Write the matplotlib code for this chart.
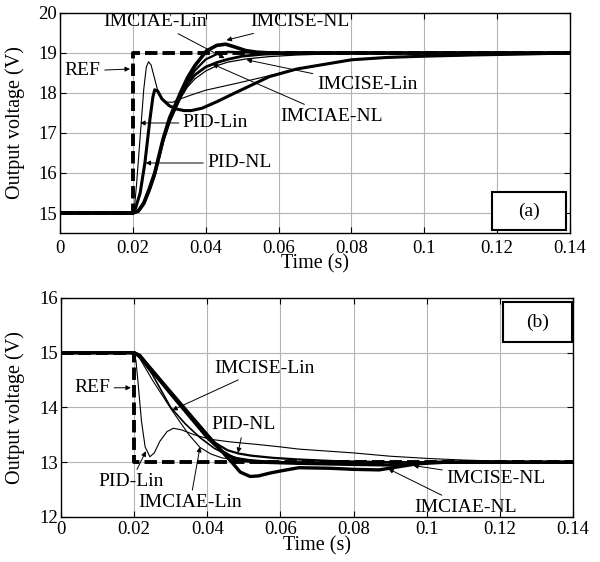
import matplotlib
matplotlib.use("Agg")
import matplotlib.pyplot as plt
from matplotlib.patches import Rectangle

plt.rcParams['font.family'] = ['Liberation Serif', 'DejaVu Serif']
plt.rcParams['mathtext.fontset'] = 'stix'

# ---------------- Panel (a) data ----------------
t_ref_a = [0, 0.02, 0.02, 0.14]
v_ref_a = [15, 15, 19, 19]

t_pidlin_a = [0, 0.020, 0.0205, 0.021, 0.022, 0.023, 0.0237, 0.0243, 0.0250, 0.026, 0.027, 0.028,
              0.0295, 0.031, 0.033, 0.036, 0.040, 0.0484, 0.055, 0.065, 0.080, 0.090, 0.100, 0.113, 0.125, 0.14]
v_pidlin_a = [15, 15, 15.2, 15.7, 16.9, 18.1, 18.65, 18.78, 18.7, 18.35, 18.0, 17.85,
              17.77, 17.77, 17.85, 17.95, 18.07, 18.24, 18.38, 18.6, 18.82, 18.88, 18.91, 18.94, 18.97, 19.0]

t_pidnl_a = [0, 0.020, 0.0205, 0.022, 0.0233, 0.0247, 0.0255, 0.026, 0.0268, 0.028, 0.030, 0.032,
             0.034, 0.036, 0.039, 0.043, 0.048, 0.0575, 0.065, 0.080, 0.090, 0.100, 0.113, 0.125, 0.14]
v_pidnl_a = [15, 15, 15.05, 15.5, 16.25, 17.35, 17.9, 18.08, 18.05, 17.85, 17.68, 17.6,
             17.56, 17.56, 17.62, 17.78, 18.0, 18.41, 18.6, 18.83, 18.89, 18.92, 18.95, 18.97, 19.0]

t_imcisenl_a = [0, 0.020, 0.0215, 0.023, 0.0245, 0.026, 0.0283, 0.0301, 0.0333, 0.035, 0.037, 0.0402,
                0.043, 0.0455, 0.048, 0.051, 0.054, 0.058, 0.14]
v_imcisenl_a = [15, 15, 15.05, 15.25, 15.6, 16.0, 16.85, 17.38, 18.05, 18.38, 18.68, 19.05,
                19.19, 19.22, 19.15, 19.06, 19.02, 19.0, 19.0]

t_imciaelin_a = [0, 0.020, 0.0215, 0.023, 0.0245, 0.026, 0.0283, 0.0301, 0.0333, 0.035, 0.037, 0.040,
                 0.043, 0.046, 0.050, 0.055, 0.14]
v_imciaelin_a = [15, 15, 15.05, 15.25, 15.6, 16.0, 16.83, 17.33, 17.98, 18.28, 18.56, 18.84,
                 18.97, 19.03, 19.02, 19.0, 19.0]

t_imciaenl_a = [0, 0.020, 0.0215, 0.023, 0.0245, 0.026, 0.0283, 0.0301, 0.0333, 0.035, 0.037, 0.040,
                0.043, 0.046, 0.050, 0.056, 0.065, 0.14]
v_imciaenl_a = [15, 15, 15.04, 15.22, 15.55, 15.95, 16.8, 17.3, 17.95, 18.22, 18.45, 18.65,
                18.76, 18.84, 18.92, 18.97, 19.0, 19.0]

t_imciselin_a = [0, 0.020, 0.0215, 0.023, 0.0245, 0.026, 0.0283, 0.0301, 0.0333, 0.035, 0.037, 0.040,
                 0.043, 0.046, 0.051, 0.0575, 0.065, 0.075, 0.090, 0.14]
v_imciselin_a = [15, 15, 15.04, 15.22, 15.55, 15.95, 16.78, 17.28, 17.9, 18.15, 18.35, 18.55,
                 18.68, 18.77, 18.85, 18.91, 18.95, 18.98, 19.0, 19.0]

# ---------------- Panel (b) data ----------------
t_ref_b = [0, 0.02, 0.02, 0.14]
v_ref_b = [15, 15, 13, 13]

t_pidlin_b = [0, 0.020, 0.0205, 0.021, 0.022, 0.023, 0.0243, 0.0255, 0.027, 0.029, 0.0307, 0.033,
              0.0365, 0.0407, 0.0465, 0.0544, 0.060, 0.065, 0.080, 0.090, 0.100, 0.110, 0.120, 0.14]
v_pidlin_b = [15, 15, 14.85, 14.5, 13.75, 13.28, 13.1, 13.17, 13.38, 13.56, 13.62, 13.59,
              13.5, 13.42, 13.37, 13.32, 13.28, 13.24, 13.17, 13.11, 13.07, 13.04, 13.02, 13.0]

t_pidnl_b = [0, 0.020, 0.022, 0.030, 0.038, 0.042, 0.0455, 0.0485, 0.052, 0.058, 0.065, 0.075, 0.090, 0.14]
v_pidnl_b = [15, 15, 14.88, 14.25, 13.62, 13.36, 13.22, 13.16, 13.12, 13.08, 13.05, 13.02, 13.0, 13.0]

t_imcisenl_b = [0, 0.020, 0.0215, 0.030, 0.040, 0.044, 0.047, 0.050, 0.055, 0.065, 0.080, 0.090,
                0.097, 0.105, 0.14]
v_imcisenl_b = [15, 15, 14.95, 14.25, 13.45, 13.2, 13.08, 13.03, 13.0, 12.98, 12.96, 12.95,
                12.97, 13.0, 13.0]

t_imciaenl_b = [0, 0.020, 0.0215, 0.030, 0.040, 0.0449, 0.0467, 0.049, 0.0517, 0.054, 0.057, 0.060,
                0.065, 0.0735, 0.080, 0.087, 0.0935, 0.100, 0.14]
v_imciaenl_b = [15, 15, 14.95, 14.28, 13.5, 13.13, 13.0, 12.82, 12.74, 12.75, 12.8, 12.84,
                12.9, 12.89, 12.87, 12.86, 12.93, 13.0, 13.0]

t_imciselin_b = [0, 0.020, 0.0215, 0.025, 0.030, 0.034, 0.038, 0.042, 0.045, 0.048, 0.052, 0.058, 0.068, 0.14]
v_imciselin_b = [15, 15, 14.92, 14.6, 14.0, 13.7, 13.45, 13.25, 13.15, 13.08, 13.04, 13.01, 13.0, 13.0]

t_imciaelin_b = [0, 0.020, 0.0215, 0.025, 0.0303, 0.035, 0.038, 0.041, 0.044, 0.048, 0.055, 0.065, 0.14]
v_imciaelin_b = [15, 15, 14.9, 14.5, 13.95, 13.5, 13.27, 13.15, 13.08, 13.04, 13.02, 13.0, 13.0]

x_ticks = [0, 0.02, 0.04, 0.06, 0.08, 0.1, 0.12, 0.14]
x_tick_labels = ['0', '0.02', '0.04', '0.06', '0.08', '0.1', '0.12', '0.14']
y_ticks_a = [15, 16, 17, 18, 19, 20]
y_ticks_b = [12, 13, 14, 15, 16]

fig = plt.figure(figsize=(6.0, 5.62), dpi=100)
ax1 = fig.add_axes([0.100, 0.5854, 0.850, 0.3915])
ax2 = fig.add_axes([0.1017, 0.0801, 0.8533, 0.3897])

def style(ax, yticks, ylim, pad_x):
    ax.set_xlim(0, 0.14)
    ax.set_ylim(*ylim)
    ax.set_xticks(x_ticks)
    ax.set_xticklabels(x_tick_labels)
    ax.set_yticks(yticks)
    ax.grid(True, color='#b4b4b4', lw=0.8)
    ax.set_axisbelow(True)
    ax.tick_params(direction='in', top=True, right=True, length=4, width=0.8, labelsize=13.5)
    ax.tick_params(axis='x', pad=pad_x)
    ax.tick_params(axis='y', pad=2)
    for s in ax.spines.values():
        s.set_linewidth(1.0)
    ax.set_ylabel('Output voltage (V)', fontsize=14.5)
    ax.set_xlabel('Time (s)', fontsize=14.5)

style(ax1, y_ticks_a, (14.5, 20), 5)
style(ax2, y_ticks_b, (12, 16), 3)
ax1.yaxis.set_label_coords(-0.069, 0.5)
ax2.yaxis.set_label_coords(-0.070, 0.5)
ax1.xaxis.set_label_coords(0.5, -0.098)
ax2.xaxis.set_label_coords(0.5, -0.090)

# panel (a) curves
ax1.plot(t_pidlin_a, v_pidlin_a, color='k', lw=0.8)
ax1.plot(t_imciselin_a, v_imciselin_a, color='k', lw=0.9)
ax1.plot(t_pidnl_a, v_pidnl_a, color='k', lw=2.2)
ax1.plot(t_imciaelin_a, v_imciaelin_a, color='k', lw=1.6)
ax1.plot(t_imciaenl_a, v_imciaenl_a, color='k', lw=2.0)
ax1.plot(t_imcisenl_a, v_imcisenl_a, color='k', lw=2.6)
ax1.plot(t_ref_a, v_ref_a, color='k', lw=2.8, dashes=(3.2, 1.3))

# panel (b) curves
ax2.plot(t_pidlin_b, v_pidlin_b, color='k', lw=0.8)
ax2.plot(t_imciaelin_b, v_imciaelin_b, color='k', lw=0.8)
ax2.plot(t_imciselin_b, v_imciselin_b, color='k', lw=1.2)
ax2.plot(t_pidnl_b, v_pidnl_b, color='k', lw=1.6)
ax2.plot(t_imcisenl_b, v_imcisenl_b, color='k', lw=2.4)
ax2.plot(t_imciaenl_b, v_imciaenl_b, color='k', lw=2.4)
ax2.plot(t_ref_b, v_ref_b, color='k', lw=2.8, dashes=(3.2, 1.3))

arrow = dict(arrowstyle='-|>', color='k', lw=0.7, mutation_scale=7, shrinkA=1, shrinkB=0)
fs = 14

def ann(ax, text, tip, pos):
    ax.annotate(text, xy=tip, xytext=pos, fontsize=fs, ha='center', va='center',
                arrowprops=arrow)

ann(ax1, 'IMCIAE-Lin', (0.0452, 18.87), (0.0262, 19.78))
ann(ax1, 'IMCISE-NL', (0.0457, 19.32), (0.0658, 19.78))
ann(ax1, 'REF', (0.0192, 18.6), (0.0062, 18.55))
ann(ax1, 'PID-Lin', (0.0220, 17.25), (0.0427, 17.25))
ann(ax1, 'PID-NL', (0.0235, 16.25), (0.0493, 16.25))
ann(ax1, 'IMCISE-Lin', (0.0512, 18.83), (0.0843, 18.2))
ann(ax1, 'IMCIAE-NL', (0.0419, 18.72), (0.0745, 17.42))

ann(ax2, 'REF', (0.0191, 14.36), (0.0085, 14.36))
ann(ax2, 'IMCISE-Lin', (0.0304, 13.95), (0.0555, 14.72))
ann(ax2, 'PID-NL', (0.0484, 13.17), (0.0500, 13.68))
ann(ax2, 'PID-Lin', (0.0232, 13.2), (0.0191, 12.64))
ann(ax2, 'IMCIAE-Lin', (0.0380, 13.28), (0.0353, 12.26))
ann(ax2, 'IMCISE-NL', (0.0963, 12.94), (0.1190, 12.71))
ann(ax2, 'IMCIAE-NL', (0.0895, 12.88), (0.1107, 12.18))

# boxed panel labels
ax1.add_patch(Rectangle((0.847, 0.0136), 0.145, 0.172, transform=ax1.transAxes,
                        fill=True, facecolor='white', edgecolor='k', lw=1.5, zorder=5))
ax1.text(0.92, 0.1, '(a)', transform=ax1.transAxes, ha='center', va='center', fontsize=fs, zorder=6)
ax2.add_patch(Rectangle((0.863, 0.799), 0.135, 0.183, transform=ax2.transAxes,
                        fill=True, facecolor='white', edgecolor='k', lw=1.5, zorder=5))
ax2.text(0.93, 0.89, '(b)', transform=ax2.transAxes, ha='center', va='center', fontsize=fs, zorder=6)

fig.savefig('out.png', dpi=100)
